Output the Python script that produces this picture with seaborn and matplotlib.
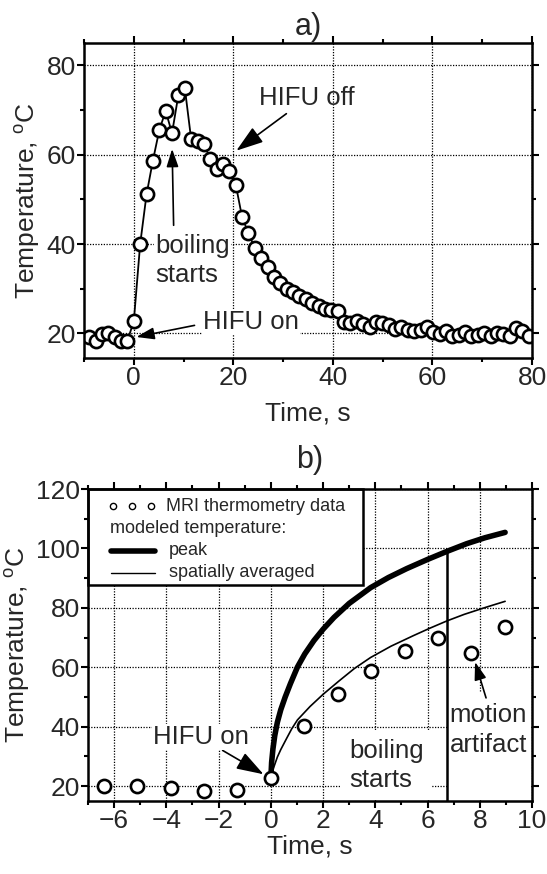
import numpy as np
import pandas as pd
import seaborn as sns
import matplotlib
matplotlib.use("Agg")
import matplotlib.pyplot as plt
from matplotlib.ticker import MultipleLocator
from matplotlib.patches import Rectangle
from matplotlib.lines import Line2D

# ---- panel a: MRI temperature time course ----
time_a = [-8.96, -7.68, -6.40, -5.12, -3.84, -2.56, -1.28,
          0.00, 1.28, 2.56, 3.84, 5.12, 6.40, 7.68, 8.96, 10.24, 11.52,
          12.80, 14.08, 15.36, 16.64, 17.92, 19.20, 20.48, 21.76, 23.04, 24.32,
          25.60, 26.88, 28.16, 29.44, 30.72, 32.00, 33.28, 34.56, 35.84, 37.12,
          38.40, 39.68, 40.96, 42.24, 43.52, 44.80, 46.08, 47.36, 48.64, 49.92,
          51.20, 52.48, 53.76, 55.04, 56.32, 57.60, 58.88, 60.16, 61.44, 62.72,
          64.00, 65.28, 66.56, 67.84, 69.12, 70.40, 71.68, 72.96, 74.24, 75.52,
          76.80, 78.08, 79.36]
temp_a = [19.2, 18.4, 19.9, 20.1, 19.2, 18.4, 18.4,
          22.7, 40.0, 51.1, 58.7, 65.5, 69.8, 64.8, 73.4, 75.0, 63.5,
          63.0, 62.5, 59.0, 56.8, 57.9, 56.4, 53.3, 46.0, 42.4, 39.1,
          36.9, 34.8, 32.6, 31.2, 30.0, 29.3, 28.3, 27.6, 26.8, 26.1,
          25.5, 25.2, 25.0, 22.6, 22.3, 22.8, 22.0, 21.5, 22.5, 22.3,
          21.8, 21.0, 21.5, 20.8, 20.5, 20.8, 21.5, 20.3, 19.8, 20.5,
          19.5, 19.7, 20.3, 19.5, 19.6, 20.0, 19.4, 20.2, 19.8, 19.5,
          21.2, 20.5, 19.5]

# ---- panel b: early heating, data vs model ----
time_b = [-6.40, -5.12, -3.84, -2.56, -1.28, 0.00, 1.28, 2.56, 3.84, 5.12, 6.40, 7.68, 8.96]
temp_b = [20.1, 19.9, 19.3, 18.4, 18.8, 22.7, 40.1, 51.0, 58.7, 65.4, 69.9, 64.9, 73.4]

time_peak = [0.0, 0.03, 0.08, 0.15, 0.25, 0.38, 0.55, 0.75, 1.02, 1.3, 1.65, 2.0, 2.42,
             3.0, 3.82, 4.5, 5.2, 6.0, 6.74, 7.5, 8.2, 8.97]
temp_peak = [22.7, 28.0, 32.5, 37.0, 41.5, 45.7, 50.0, 54.5, 60.1, 64.5, 69.0, 72.8, 76.8,
             81.5, 86.8, 90.2, 93.2, 96.3, 99.0, 101.6, 103.6, 105.4]

time_avg = [0.0, 0.05, 0.13, 0.25, 0.38, 0.6, 0.8, 1.02, 1.5, 2.0, 2.61, 3.2, 3.82,
            4.6, 5.47, 6.1, 6.74, 7.4, 8.2, 8.97]
temp_avg = [22.7, 24.8, 26.8, 29.8, 32.3, 36.0, 39.3, 42.3, 46.8, 50.9, 55.4, 59.6, 63.3,
            67.1, 70.7, 73.2, 75.6, 77.8, 80.1, 82.2]

boiling_onset = 6.75

sns.set_theme(style="white")
plt.rcParams["font.family"] = ["Liberation Sans", "DejaVu Sans"]
plt.rcParams["mathtext.fontset"] = "custom"
plt.rcParams["mathtext.rm"] = "Liberation Sans"
plt.rcParams["mathtext.it"] = "Liberation Sans:italic"
plt.rcParams["axes.edgecolor"] = "black"

FS = 19
AFS = 18.5
fig = plt.figure(figsize=(5.47, 8.74), dpi=100)
ax_a = fig.add_axes([0.1536, 0.5904, 0.819, 0.3604])
ax_b = fig.add_axes([0.1609, 0.0835, 0.8117, 0.357])


def style_axes(ax, xmaj, xmin, ymaj, ymin):
    ax.set_facecolor("white")
    for s in ax.spines.values():
        s.set_visible(True)
        s.set_linewidth(1.8)
        s.set_color("black")
        s.set_zorder(8)
    ax.xaxis.set_major_locator(MultipleLocator(xmaj))
    ax.xaxis.set_minor_locator(MultipleLocator(xmin))
    ax.yaxis.set_major_locator(MultipleLocator(ymaj))
    ax.yaxis.set_minor_locator(MultipleLocator(ymin))
    ax.tick_params(which="both", direction="out", top=True, right=True,
                   bottom=True, left=True, labeltop=False, labelright=False,
                   color="black", labelsize=FS, pad=1)
    ax.tick_params(which="major", length=5, width=1.5)
    ax.tick_params(which="minor", length=3, width=1.5)
    ax.grid(True, which="major", color="black", linestyle=(0, (1, 1.2)), linewidth=0.9)
    ax.set_axisbelow(True)


ylabel = r"Temperature, $^{\rm o}$C"

# panel a
sns.lineplot(x=time_a, y=temp_a, ax=ax_a, color="black", linewidth=1.3,
             marker="o", markersize=9.5, markerfacecolor="white",
             markeredgecolor="black", markeredgewidth=1.9, zorder=3)
ax_a.set_xlim(-10, 80)
ax_a.set_ylim(14.5, 85)
style_axes(ax_a, 20, 10, 20, 10)
ax_a.set_xlabel("Time, s", fontsize=FS, labelpad=8)
ax_a.set_ylabel(ylabel, fontsize=FS, labelpad=3)
ax_a.set_title("a)", fontsize=22, pad=6)

bbox_w = dict(boxstyle="square,pad=0.05", fc="white", ec="none")
arrow = dict(arrowstyle="-|>,head_length=0.9,head_width=0.3", color="black",
             lw=1.2, shrinkA=0, shrinkB=0)
ax_a.annotate("HIFU off", xy=(20.6, 60.9), xytext=(25.2, 72.6), fontsize=AFS,
              ha="left", va="center", arrowprops=arrow, zorder=5)
ax_a.annotate("", xy=(7.7, 61.3), xytext=(8.0, 44.2), arrowprops=arrow, zorder=5)
ax_a.text(4.3, 36.3, "boiling\nstarts", fontsize=AFS, ha="left", va="center",
          linespacing=1.3, bbox=bbox_w, zorder=4)
ax_a.annotate("", xy=(0.5, 19.2), xytext=(12.2, 21.8), arrowprops=arrow, zorder=5)
ax_a.text(13.9, 22.6, "HIFU on", fontsize=AFS, ha="left", va="center",
          bbox=bbox_w, zorder=4)

# panel b
sns.scatterplot(x=time_b, y=temp_b, ax=ax_b, marker="o", s=90,
                facecolor="white", edgecolor="black", linewidth=1.9, zorder=4)
sns.lineplot(x=time_peak, y=temp_peak, ax=ax_b, color="black", linewidth=4.0,
             sort=False, zorder=3)
sns.lineplot(x=time_avg, y=temp_avg, ax=ax_b, color="black", linewidth=1.2,
             sort=False, zorder=3)
peak_at_boil = float(np.interp(boiling_onset, time_peak, temp_peak))
ax_b.plot([boiling_onset, boiling_onset], [15, peak_at_boil], color="black",
          lw=1.8, zorder=3)
ax_b.set_xlim(-7, 10)
ax_b.set_ylim(15, 120)
style_axes(ax_b, 2, 1, 20, 10)
ax_b.set_xlabel("Time, s", fontsize=FS, labelpad=1)
ax_b.set_ylabel(ylabel, fontsize=FS, labelpad=3)
ax_b.set_title("b)", fontsize=22, pad=15)

ax_b.annotate("HIFU on", xy=(-0.28, 24.0), xytext=(-4.5, 36.5), fontsize=AFS,
              ha="left", va="center", bbox=bbox_w, zorder=5,
              arrowprops=dict(arrow, relpos=(0.7, 0.0)))
ax_b.text(3.0, 27.0, "boiling\nstarts", fontsize=AFS, ha="left", va="center",
          linespacing=1.3, bbox=dict(boxstyle="square,pad=0.3", fc="white", ec="none"),
          zorder=2.5)
# blank strip behind the artifact note, right of the boiling line
ax_b.add_patch(Rectangle((boiling_onset + 0.05, 15.3), 10 - boiling_onset - 0.1, 36.0,
                         fc="white", ec="none", zorder=2.4))
ax_b.annotate("", xy=(7.82, 61.8), xytext=(8.24, 49.7), arrowprops=arrow, zorder=5)
ax_b.text(6.85, 39.0, "motion\nartifact", fontsize=AFS, ha="left", va="center",
          linespacing=1.3, zorder=2.5)

# legend box drawn in axes coordinates
tr = ax_b.transAxes
ax_b.add_patch(Rectangle((0, 0.692), 0.619, 0.308, transform=tr, fc="white",
                         ec="black", lw=1.8, zorder=6, clip_on=False))
LFS = 13
for xc in (0.057, 0.100, 0.141):
    ax_b.add_line(Line2D([xc], [0.945], transform=tr, marker="o", ms=4.5,
                         mfc="white", mec="black", mew=1.0, ls="none", zorder=7))
ax_b.text(0.176, 0.945, "MRI thermometry data", transform=tr, fontsize=LFS,
          ha="left", va="center", zorder=7)
ax_b.text(0.05, 0.875, "modeled temperature:", transform=tr, fontsize=LFS,
          ha="left", va="center", zorder=7)
ax_b.add_line(Line2D([0.051, 0.151], [0.802, 0.802], transform=tr, color="black",
                     lw=4.0, solid_capstyle="round", zorder=7))
ax_b.text(0.183, 0.802, "peak", transform=tr, fontsize=LFS, ha="left",
          va="center", zorder=7)
ax_b.add_line(Line2D([0.051, 0.151], [0.731, 0.731], transform=tr, color="black",
                     lw=1.0, zorder=7))
ax_b.text(0.183, 0.731, "spatially averaged", transform=tr, fontsize=LFS,
          ha="left", va="center", zorder=7)

fig.savefig("out.png", dpi=100, facecolor="white")
